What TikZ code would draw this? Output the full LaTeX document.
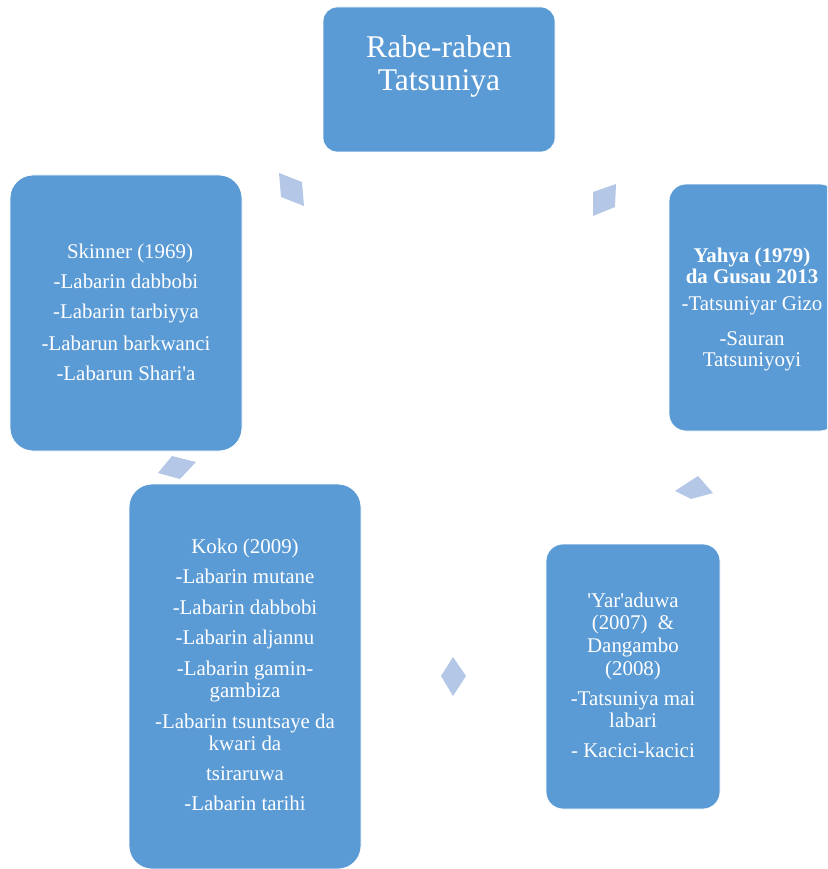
\documentclass[tikz,border=0pt]{standalone}
\usepackage{fontspec}
\setmainfont{Liberation Serif}[Ligatures=TeXOff]
\definecolor{boxblue}{HTML}{5B9BD5}
\definecolor{arrowblue}{HTML}{B4C7E7}
\begin{document}
\begin{tikzpicture}[x=1pt,y=-1pt,
  box/.style={draw=white,line width=0.8pt,fill=boxblue,inner sep=0pt,rounded corners=#1},
  txt/.style={text=white,anchor=base,inner sep=0pt,font=\fontsize{20.9}{24}\selectfont},
  arr/.style={fill=arrowblue,draw=none}]
\useasboundingbox (0,0) rectangle (827,869);
\clip (0,0) rectangle (827,869);
% boxes
\node[box=14pt,minimum width=232pt,minimum height=145pt] (top) at (439,79.5) {};
\node[box=23pt,minimum width=232pt,minimum height=276pt] (skinner) at (126,313) {};
\node[box=17pt,minimum width=168pt,minimum height=247pt] (yahya) at (753,307.5) {};
\node[box=17pt,minimum width=174pt,minimum height=265pt] (yar) at (633,676.5) {};
\node[box=23pt,minimum width=232pt,minimum height=385pt] (koko) at (245,676.5) {};
% cycle markers
\fill[arr] (279,173) -- (302,182) -- (304,206) -- (281,197) -- cycle;
\fill[arr] (593,192) -- (616,184) -- (615,207) -- (593,216) -- cycle;
\fill[arr] (675,491) -- (698,476) -- (713,493) -- (691,499) -- cycle;
\fill[arr] (453,657) -- (466,676) -- (453,696) -- (441,676) -- cycle;
\fill[arr] (158,473) -- (172,456) -- (196,462) -- (180,479) -- cycle;
% top text
\node[txt,font=\fontsize{31.6}{33}\selectfont] (t1) at (439,58) {Rabe-raben};
\node[txt,font=\fontsize{31.6}{33}\selectfont] (t2) at (439,91) {Tatsuniya};
% Skinner
\node[txt] (s1) at (130,258) {Skinner (1969)};
\node[txt] (s2) at (126,288) {-Labarin dabbobi};
\node[txt] (s3) at (126,318) {-Labarin tarbiyya};
\node[txt] (s4) at (126,350) {-Labarun barkwanci};
\node[txt] (s5) at (126,380.5) {-Labarun Shari'a};
% Yahya
\node[txt,font=\bfseries\fontsize{20.9}{24}\selectfont] (y1) at (752,262) {Yahya (1979)};
\node[txt,font=\bfseries\fontsize{20.9}{24}\selectfont] (y2) at (752,283) {da Gusau 2013};
\node[txt] (y3) at (752,310) {-Tatsuniyar Gizo};
\node[txt] (y4) at (752,345) {-Sauran};
\node[txt] (y5) at (752,366) {Tatsuniyoyi};
% Yar'aduwa
\node[txt] (r1) at (633,607) {'Yar'aduwa};
\node[txt] (r2) at (633,629.5) {(2007)\ \ \&};
\node[txt] (r3) at (633,652) {Dangambo};
\node[txt] (r4) at (633,675) {(2008)};
\node[txt] (r5) at (633,705) {-Tatsuniya mai};
\node[txt] (r6) at (633,727) {labari};
\node[txt] (r7) at (633,757) {- Kacici-kacici};
% Koko
\node[txt] (k1) at (245,553) {Koko (2009)};
\node[txt] (k2) at (245,583) {-Labarin mutane};
\node[txt] (k3) at (245,614) {-Labarin dabbobi};
\node[txt] (k4) at (245,644) {-Labarin aljannu};
\node[txt] (k5) at (245,675) {-Labarin gamin-};
\node[txt] (k6) at (245,697) {gambiza};
\node[txt] (k7) at (245,728) {-Labarin tsuntsaye da};
\node[txt] (k8) at (245,750) {kwari da};
\node[txt] (k9) at (245,780) {tsiraruwa};
\node[txt] (k10) at (245,810) {-Labarin tarihi};
\end{tikzpicture}
\end{document}
